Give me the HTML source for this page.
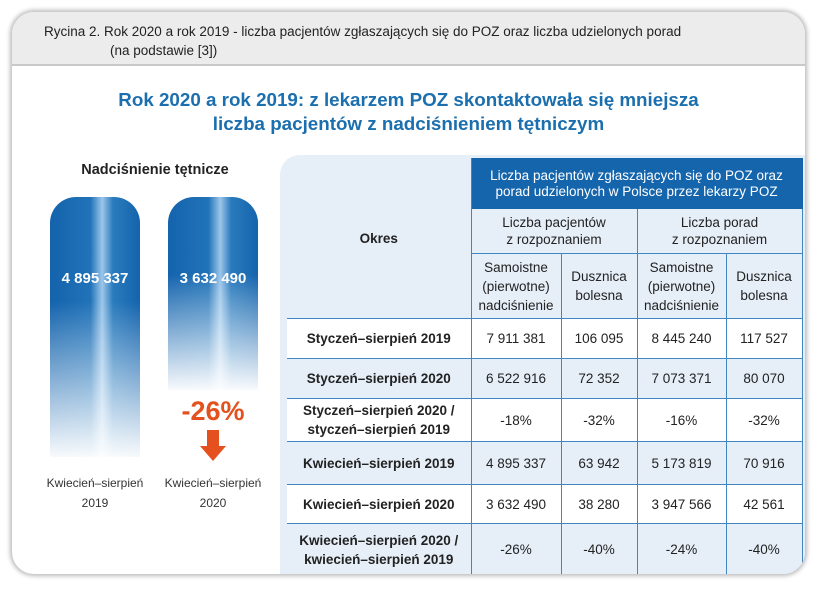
<!DOCTYPE html>
<html><head><meta charset="utf-8"><style>
*{margin:0;padding:0;box-sizing:border-box}
body{width:820px;height:593px;background:#fff;font-family:"Liberation Sans",sans-serif;position:relative;overflow:hidden}
.card{position:absolute;left:12px;top:12px;width:793px;height:562px;border-radius:22px;background:#fff;box-shadow:0 0 4px 2px #bbb;overflow:hidden}
.cap{position:absolute;left:0;top:0;width:100%;height:54px;background:#ececec;border-bottom:2px solid #c9c9c9;font-size:13.5px;color:#222}
.h{position:absolute;left:0;width:100%;text-align:center;color:#1b6fae;font-size:18.8px;font-weight:bold}
.bar{position:absolute;border-radius:26px 26px 0 0;background:linear-gradient(to right,#1463ad 0%,#2173b8 45%,#9cc6ea 58%,#2a7bbd 70%,#1463ad 100%)}
.bar::after{content:"";position:absolute;left:0;right:0;bottom:0;height:60%;background:linear-gradient(to bottom,rgba(255,255,255,0),rgba(255,255,255,0.97))}
.num{position:absolute;width:100%;text-align:center;color:#fff;font-weight:bold;font-size:15px;z-index:2}
.lbl{position:absolute;text-align:center;font-size:12px;color:#333;line-height:20px;width:120px}
table{position:absolute;left:275px;top:146px;border-collapse:collapse;font-size:13.5px;color:#222}
td{border:1.5px solid #3f86c3;text-align:center;padding:0}
.tb{background:#e6eef8}
</style></head><body>
<div class="card">
 <div class="cap">
  <div style="position:absolute;left:32px;top:12px">Rycina 2. Rok 2020 a rok 2019 - liczba pacjentów zgłaszających się do POZ oraz liczba udzielonych porad</div>
  <div style="position:absolute;left:98px;top:31px">(na podstawie [3])</div>
 </div>
 <div class="h" style="top:77px">Rok 2020 a rok 2019: z lekarzem POZ skontaktowała się mniejsza</div>
 <div class="h" style="top:101px">liczba pacjentów z nadciśnieniem tętniczym</div>
 <div style="position:absolute;left:38px;top:150px;width:210px;text-align:center;font-weight:bold;font-size:14.5px;color:#222">Nadciśnienie tętnicze</div>
 <div id="bars"></div>
 <div style="position:absolute;left:268px;top:143px;width:530px;height:430px;background:#e6eef8;border-radius:20px 0 0 0"></div>
 <table>
  <colgroup><col style="width:184px"><col style="width:90px"><col style="width:76px"><col style="width:89px"><col style="width:76px"></colgroup>
  <tr style="height:50px"><td rowspan="3" style="border-top:none;border-left:none;font-weight:bold" class="tb">Okres</td><td colspan="4" style="background:#1565ad;color:#fff;line-height:16px;font-size:13.5px;border-color:#1565ad">Liczba pacjentów zgłaszających się do POZ oraz<br>porad udzielonych w Polsce przez lekarzy POZ</td></tr>
  <tr style="height:45px" class="tb"><td colspan="2" style="line-height:17px">Liczba pacjentów<br>z rozpoznaniem</td><td colspan="2" style="line-height:17px">Liczba porad<br>z rozpoznaniem</td></tr>
  <tr style="height:65px" class="tb"><td style="line-height:19px">Samoistne<br>(pierwotne)<br>nadciśnienie</td><td style="line-height:19px">Dusznica<br>bolesna</td><td style="line-height:19px">Samoistne<br>(pierwotne)<br>nadciśnienie</td><td style="line-height:19px">Dusznica<br>bolesna</td></tr>
  <tbody id="tbody"></tbody>
 </table>
</div>
<script>
const barLabels=["Kwiecień–sierpień 2019","Kwiecień–sierpień 2020"];
const barValues=[4895337,3632490];
const barText=["4 895 337","3 632 490"];
const changeText="-26%";
const rowLabels=["Styczeń–sierpień 2019","Styczeń–sierpień 2020","Styczeń–sierpień 2020 /<br>styczeń–sierpień 2019","Kwiecień–sierpień 2019","Kwiecień–sierpień 2020","Kwiecień–sierpień 2020 /<br>kwiecień–sierpień 2019"];
const colPatSam=["7 911 381","6 522 916","-18%","4 895 337","3 632 490","-26%"];
const colPatDus=["106 095","72 352","-32%","63 942","38 280","-40%"];
const colPorSam=["8 445 240","7 073 371","-16%","5 173 819","3 947 566","-24%"];
const colPorDus=["117 527","80 070","-32%","70 916","42 561","-40%"];
const rowHeights=[40,40,43,43,39,52];

const bars=document.getElementById('bars');
const top0=185, maxH=260, maxV=Math.max(...barValues);
barValues.forEach((v,i)=>{
  const h=v/maxV*maxH, x=38+i*118;
  const b=document.createElement('div');
  b.className='bar';
  
  
  b.style.cssText=`left:${x}px;top:${top0}px;width:90px;height:${h}px`;
  const n=document.createElement('div');
  n.className='num';
  
  
  n.style.top='73px';
  n.textContent=barText[i];
  b.appendChild(n);
  bars.appendChild(b);
  const l=document.createElement('div');
  l.className='lbl';
  
  
  const p=barLabels[i].split(' ');
  l.innerHTML=p[0]+'<br>'+p[1];
  l.style.cssText+=`left:${x-15}px;top:461px`;
  bars.appendChild(l);
  if(i===1){
    const c=document.createElement('div');
    
    
    c.textContent=changeText;
    c.style.cssText=`position:absolute;left:${x-5}px;width:100px;text-align:center;top:${top0+h+6}px;color:#e4511e;font-weight:bold;font-size:27px`;
    bars.appendChild(c);
    const a=document.createElement('div');
    
    
    a.innerHTML='<svg width="30" height="32"><rect x="9" y="0" width="12" height="16" fill="#e4511e"/><polygon points="2,16 28,16 15,31" fill="#e4511e"/></svg>';
    a.style.cssText=`position:absolute;left:${x+30}px;top:${top0+h+40}px`;
    bars.appendChild(a);
  }
});
const tb=document.getElementById('tbody');
rowLabels.forEach((r,i)=>{
  const tr=document.createElement('tr');
  
  
  tr.style.height=rowHeights[i]+'px';
  tr.style.background=i%2?'#e6eef8':'#fff';
  const cells=[r,colPatSam[i],colPatDus[i],colPorSam[i],colPorDus[i]];
  cells.forEach((c,j)=>{
    const td=document.createElement('td');
    td.innerHTML=c;
    if(j===0){td.style.fontWeight='bold';td.style.lineHeight='19px';td.style.borderLeft='none';}
    tr.appendChild(td);
  });
  tb.appendChild(tr);
});
</script>
</body></html>
